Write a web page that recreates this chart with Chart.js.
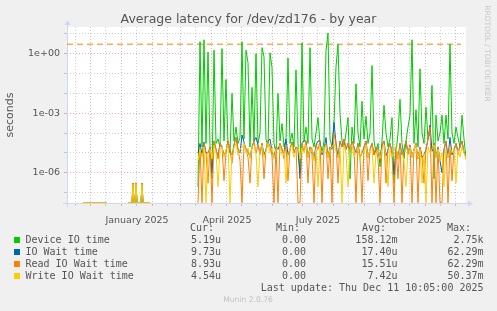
<!DOCTYPE html>
<html>
<head>
<meta charset="utf-8">
<title>Average latency for /dev/zd176 - by year</title>
<script src="https://cdn.jsdelivr.net/npm/chart.js@4/dist/chart.umd.min.js"></script>
<style>
  body { margin: 0; background: #f0f0f0; }
  canvas { display: block; }
</style>
</head>
<body>
<canvas id="latency" width="497" height="311"></canvas>
<script>
// x positions = days since 8 Nov 2024 (left edge of the plot), one pixel per day
// first 22 entries are the few early samples, null = no data (breaks the line)
const earlyDays = [16, 20, 24, 28, 32, 36, 40, 50, 61, 64, 65, 66, 67, 68, 69, 70, 74, 75, 76, 80, 83, 100];
const days = earlyDays.slice();
for (let d = 131; d <= 399; d += 2) days.push(d);

// values in seconds, 0 = drawn on the floor of the log axis like rrdtool does
const deviceIO = [
  0, 0, 0, 0, 0, 0, 0, null, 0, 0, 0, 2e-7, 0, 0, 2.5e-7, 0, 0, 2e-7, 0, 0, 0, null,
  2e-7, 4, 2e-5, 5, 3e-5, 1.2, 2e-5, 5e-7, 1.5, 3e-5, 5e-5, 2e-5, 1.8, 4e-5, 0.05,
  3e-5, 1e-5, 0.01, 4e-5, 2e-4, 3e-5, 6e-5, 4, 5e-5, 1.5, 0.35, 2e-5, 0.02, 4e-5, 1,
  3e-5, 1e-4, 2, 0.7, 5e-5, 2e-5, 1.1, 0.2, 3e-5, 1e-5, 0.01, 4e-5, 3e-4, 2e-5, 5e-5,
  0.6, 3e-5, 1e-4, 2e-5, 0.15, 3e-5, 1e-6, 3.5, 4e-5, 2e-4, 3e-5, 2, 5e-5, 2e-5, 1e-4,
  6e-4, 3e-5, 1e-5, 4e-5, 1.4, 11, 5e-5, 2e-5, 3e-4, 0.22, 3, 1e-3, 4e-5, 2e-5, 1e-4,
  6e-4, 5e-7, 2e-4, 3e-5, 0.03, 1e-4, 2e-5, 0.004, 5e-5, 7e-4, 3e-5, 1e-4, 0.25, 4e-5, 1e-5,
  3e-5, 2e-6, 4e-5, 0.0025, 1e-4, 2e-5, 5e-5, 6e-4, 3e-7, 1e-5, 1e-4, 0.005, 3e-5, 5e-6, 4e-5,
  2e-4, 8e-4, 5, 3e-5, 0.0015, 2e-5, 0.17, 1e-4, 3e-5, 0.002, 5e-5, 1e-4, 0.025, 5e-7, 8e-4,
  4e-5, 1e-4, 8e-4, 3e-5, 8e-4, 5e-5, 3, 1e-4, 3e-5, 2e-4, 6e-5, 2e-5, 8e-4, 5e-5, 5.19e-6
];
const ioWait = [
  0, 0, 0, 0, 0, 0, 0, null, 0, 0, 0, 3e-7, 0, 0, 3e-7, 0, 0, 3e-7, 0, 0, 0, null,
  1e-5, 3e-5, 8e-6, 3.5e-5, 1e-5, 1e-5, 2e-5, 1e-6, 4e-5, 1.5e-5, 6e-6, 3e-5, 2e-5, 8e-6, 1.2e-5,
  4e-5, 1.2e-5, 8e-6, 2.5e-5, 6e-5, 1.5e-5, 1e-5, 8e-5, 3.5e-5, 1.5e-5, 1.2e-5, 6e-6, 2e-5, 4e-5, 6e-5,
  2.5e-5, 1e-5, 3e-5, 8e-6, 1.5e-5, 4e-5, 5e-5, 1.2e-5, 6e-6, 2e-5, 1.5e-5, 3e-5, 1.5e-5, 1e-5, 5e-5,
  8e-6, 1.5e-5, 3.5e-5, 1e-5, 2e-5, 1.5e-5, 5e-7, 3e-5, 4e-5, 4e-5, 6e-6, 2e-5, 1.5e-5, 5e-6, 2.5e-5,
  4e-5, 4e-5, 8e-6, 1.5e-5, 6e-5, 6e-6, 2e-5, 1.5e-5, 3.5e-4, 3e-5, 6e-6, 4e-5, 2e-5, 5e-5, 1.5e-5,
  3e-5, 1.2e-5, 4e-5, 2e-5, 1e-5, 3e-5, 6e-6, 1e-5, 2e-5, 4e-5, 6e-6, 1.5e-5, 3e-5, 8e-6, 2e-5,
  1.2e-5, 5e-6, 2.5e-5, 4e-5, 7e-6, 1.5e-5, 3e-5, 1e-5, 8e-7, 2e-5, 5e-6, 3e-5, 8e-6, 1.5e-5, 4e-5,
  1e-5, 2.5e-5, 6e-6, 1.5e-5, 3e-5, 5e-6, 2e-5, 6e-6, 8e-6, 1.5e-5, 5e-5, 2.5e-4, 1.2e-5, 3e-5, 6e-6,
  2e-5, 4e-6, 1e-6, 1.5e-5, 4e-5, 6e-6, 6e-5, 8e-6, 1.5e-5, 3e-5, 1.2e-5, 2e-5, 4e-5, 1e-5, 9.73e-6
];
const readWait = [
  0, 0, 0, 0, 0, 0, 0, null, 0, 0, 0, 3e-7, 0, 0, 3.2e-7, 0, 0, 3e-7, 0, 0, 0, null,
  0, 2e-5, 0, 3e-5, 1e-5, 3e-7, 2e-5, 0, 4e-5, 1.5e-5, 5e-6, 3e-5, 2e-5, 4e-7, 1e-5,
  4e-5, 1.2e-5, 3e-6, 2.5e-5, 6e-5, 1.5e-5, 4e-6, 0, 3e-5, 1.5e-5, 6e-6, 3e-7, 2e-5, 4e-5, 1e-5,
  2.5e-5, 8e-6, 3e-5, 5e-7, 1.5e-5, 4e-5, 2e-5, 7e-6, 0, 2e-5, 0, 3e-5, 1.5e-5, 5e-6, 2.5e-5,
  4e-7, 1.5e-5, 3.5e-5, 1e-5, 2e-5, 0, 0, 3e-5, 1.2e-5, 4e-5, 3e-7, 2e-5, 8e-6, 0, 2.5e-5,
  1.5e-5, 4e-5, 0, 1.5e-5, 3e-5, 5e-7, 2e-5, 0, 1e-4, 3e-5, 3e-7, 4e-5, 2e-5, 5e-5, 1.5e-5,
  3e-5, 1e-5, 4e-5, 2e-5, 0, 3e-5, 6e-6, 0, 2e-5, 4e-5, 4e-7, 1.5e-5, 3e-5, 8e-6, 2e-5,
  5e-6, 0, 2.5e-5, 4e-5, 3e-7, 1.5e-5, 3e-5, 1e-5, 0, 2e-5, 5e-7, 3e-5, 0, 1.5e-5, 4e-5,
  8e-6, 2.5e-5, 0, 1.5e-5, 3e-5, 0, 2e-5, 6e-6, 3e-7, 1.5e-5, 5e-5, 2e-4, 0, 3e-5, 0,
  2e-5, 0, 0, 1.5e-5, 4e-5, 0, 2.5e-5, 4e-7, 1.5e-5, 3e-5, 8e-6, 2e-5, 4e-5, 1e-5, 8.93e-6
];
const writeWait = [
  0, 0, 0, 0, 0, 0, 0, null, 0, 0, 0, 2.6e-7, 0, 0, 2.8e-7, 0, 0, 2.6e-7, 0, 0, 0, null,
  4e-6, 1.5e-5, 6e-6, 2e-5, 0, 1.2e-5, 1.5e-5, 5e-6, 2.5e-5, 1e-5, 2e-7, 1.5e-5, 2e-5, 6e-6, 1.5e-5,
  2.5e-5, 0, 1.2e-5, 1.8e-5, 3e-5, 8e-6, 1.5e-5, 2e-5, 3e-5, 1e-5, 1.8e-5, 5e-6, 2e-5, 2.5e-5, 8e-6,
  2e-7, 1.5e-5, 2.5e-5, 6e-6, 1.2e-5, 3e-5, 1e-5, 1.8e-5, 5e-6, 1.5e-5, 2e-5, 2.5e-5, 8e-6, 1.5e-5, 3e-7,
  1e-5, 1.5e-5, 2.5e-5, 6e-6, 1.5e-5, 2e-5, 5e-6, 1.8e-5, 1e-5, 2.5e-5, 6e-6, 1.5e-5, 2e-5, 4e-6, 1.5e-5,
  2e-7, 2e-5, 1e-5, 1.5e-5, 2.5e-5, 6e-6, 1.5e-5, 2e-5, 3e-5, 1.2e-5, 6e-6, 2e-5, 0, 2.5e-5, 1e-5,
  2e-7, 1.5e-5, 2.5e-5, 6e-6, 1.2e-5, 2e-5, 4e-6, 1.5e-5, 1e-5, 2.5e-5, 6e-6, 1.5e-5, 2e-5, 3e-7, 1e-5,
  1.5e-5, 5e-6, 1.5e-5, 2.5e-5, 7e-6, 2e-7, 1.5e-5, 6e-6, 1.5e-5, 2e-5, 5e-6, 1.5e-5, 1e-5, 4e-6, 2e-7,
  1.5e-5, 2e-5, 6e-6, 1.5e-5, 2.5e-5, 5e-6, 1.5e-5, 3e-7, 1e-5, 0, 2e-5, 1e-5, 1.5e-5, 2.5e-5, 6e-6,
  1.5e-5, 4e-6, 1e-5, 2e-7, 1.5e-5, 6e-6, 2e-5, 1e-5, 1.5e-5, 3e-7, 1.5e-5, 6e-6, 2e-5, 1e-5, 4.54e-6
];
const limitLine = 3; // the dashed orange rule

// legend table
const seriesNames = ['Device IO time', 'IO Wait time', 'Read IO Wait time', 'Write IO Wait time'];
const curVals = ['5.19u', '9.73u', '8.93u', '4.54u'];
const minVals = ['0.00', '0.00', '0.00', '0.00'];
const avgVals = ['158.12m', '17.40u', '15.51u', '7.42u'];
const maxVals = ['2.75k', '62.29m', '62.29m', '50.37m'];
const lastUpdate = 'Last update: Thu Dec 11 10:05:00 2025';

// axes
const xLabelDays = [70, 160, 251, 342];
const xLabels = ['January 2025', 'April 2025', 'July 2025', 'October 2025'];
const monthDays = [23, 54, 85, 113, 144, 174, 205, 235, 266, 297, 327, 358, 388];
const midMonthDays = [8, 38, 69, 100, 128, 159, 189, 220, 250, 281, 312, 342, 373];
const yGridExps = [-7, -6, -5, -4, -3, -2, -1, 0, 1];
const yLabelExps = [0, -3, -6];
const yLabels = ['1e+00', '1e-03', '1e-06'];

// styles
const seriesColors = ['#00cc00', '#0066b3', '#ff8000', '#ffcc00'];
const FONT = '#555555';
const AXIS = '#cfd6f8';
const GRID = 'rgba(143,143,143,0.42)';
const MGRID = 'rgba(222,79,79,0.45)';
const Y_MIN = 3.1e-8;
const Y_MAX = 22;
const SANS = 'DejaVu Sans';
const MONO = 'DejaVu Sans Mono';

function toY(v) {
    if (v === null) return null;
    return v === 0 ? Y_MIN : v; // rrdtool puts zero on the floor of a log graph
}

function series(k, values, order) {
    return {
        label: seriesNames[k],
        data: days.map(function(d, i) { return { x: d, y: toY(values[i]) }; }),
        borderColor: seriesColors[k],
        borderWidth: 1,
        pointRadius: 0,
        tension: 0,
        fill: false,
        order: order,
        xAxisID: 'x'
    };
}

let decor = {
    id: 'decor',
    beforeDraw(chart) {
        const ctx = chart.ctx, a = chart.chartArea;
        ctx.save();
        ctx.fillStyle = '#f0f0f0';
        ctx.fillRect(0, 0, chart.width, chart.height);
        ctx.fillStyle = '#ffffff';
        ctx.fillRect(a.left, a.top, a.right - a.left, a.bottom - a.top);
        ctx.restore();
    },
    beforeDatasetsDraw(chart) {
        // axis lines with the little arrows
        const ctx = chart.ctx, a = chart.chartArea;
        ctx.save();
        ctx.strokeStyle = AXIS;
        ctx.fillStyle = AXIS;
        ctx.lineWidth = 1;
        ctx.beginPath();
        ctx.moveTo(a.left - 4, a.bottom + 0.5);
        ctx.lineTo(a.right + 3, a.bottom + 0.5);
        ctx.moveTo(a.left + 0.5, a.bottom + 4);
        ctx.lineTo(a.left + 0.5, a.top - 3);
        ctx.stroke();
        ctx.beginPath();
        ctx.moveTo(a.right + 7, a.bottom + 0.5);
        ctx.lineTo(a.right + 2, a.bottom - 2.5);
        ctx.lineTo(a.right + 2, a.bottom + 3.5);
        ctx.fill();
        ctx.beginPath();
        ctx.moveTo(a.left + 0.5, a.top - 7);
        ctx.lineTo(a.left - 2.5, a.top - 2);
        ctx.lineTo(a.left + 3.5, a.top - 2);
        ctx.fill();
        ctx.restore();
    },
    afterDraw(chart) {
        const ctx = chart.ctx;
        ctx.save();
        // title
        ctx.fillStyle = FONT;
        ctx.font = '12.5px "' + SANS + '"';
        ctx.textAlign = 'center';
        ctx.textBaseline = 'middle';
        ctx.fillText('Average latency for /dev/zd176 - by year', 248.5, 19.5);

        // rrdtool watermark on the right
        ctx.save();
        ctx.translate(487, 53.5);
        ctx.rotate(Math.PI / 2);
        ctx.fillStyle = '#c8c8c8';
        ctx.font = '7.5px "' + SANS + '"';
        ctx.fillText('RRDTOOL / TOBI OETIKER', 0, 0);
        ctx.restore();

        // legend table
        ctx.font = '10px "' + MONO + '"';
        ctx.fillStyle = FONT;
        ctx.textAlign = 'left';
        ctx.fillText('Cur:', 190, 228);
        ctx.fillText('Min:', 276, 228);
        ctx.fillText('Avg:', 362, 228);
        ctx.fillText('Max:', 447, 228);
        for (let k = 0; k < seriesNames.length; k++) {
            let y = 240 + 12 * k;
            ctx.fillStyle = seriesColors[k];
            ctx.fillRect(14, y - 3, 6, 6);
            ctx.fillStyle = FONT;
            ctx.textAlign = 'left';
            ctx.fillText(seriesNames[k], 25.5, y);
            ctx.textAlign = 'right';
            ctx.fillText(curVals[k], 221, y);
            ctx.fillText(minVals[k], 306, y);
            ctx.fillText(avgVals[k], 397.5, y);
            ctx.fillText(maxVals[k], 483.5, y);
        }
        ctx.textAlign = 'right';
        ctx.fillText(lastUpdate, 483.5, 288);

        ctx.textAlign = 'center';
        ctx.fillStyle = '#c0c0c0';
        ctx.font = '7.6px "' + SANS + '"';
        ctx.fillText('Munin 2.0.76', 248, 300.5);
        ctx.restore();
    }
};

new Chart(document.getElementById('latency'), {
    type: 'line',
    data: {
        datasets: [
            series(0, deviceIO, 4),
            series(1, ioWait, 3),
            series(2, readWait, 2),
            series(3, writeWait, 1),
            {
                label: 'limit',
                data: [{ x: 0, y: limitLine }, { x: 394, y: limitLine }],
                borderColor: '#ff8000',
                borderWidth: 1,
                borderDash: [6, 4],
                pointRadius: 0,
                order: 5,
                xAxisID: 'x'
            }
        ]
    },
    options: {
        responsive: false,
        animation: false,
        devicePixelRatio: 1,
        events: [],
        layout: { padding: { top: 27, left: 0, right: 31, bottom: 0 } },
        plugins: { legend: { display: false }, tooltip: { enabled: false }, title: { display: false } },
        scales: {
            x: {
                type: 'linear', position: 'bottom', min: 0, max: 399, weight: 0,
                afterBuildTicks: function(s) {
                    s.ticks = monthDays.concat(midMonthDays).sort(function(p, q) { return p - q; })
                        .map(function(v) { return { value: v }; });
                },
                afterFit: function(s) { s.height = 0; },
                ticks: { display: false, autoSkip: false },
                grid: {
                    tickLength: 3,
                    color: function(c) { return monthDays.includes(c.tick.value) ? MGRID : GRID; }
                },
                border: { display: false, dash: [1, 2] }
            },
            xl: {
                type: 'linear', position: 'bottom', min: 0, max: 399, weight: 1,
                afterBuildTicks: function(s) { s.ticks = xLabelDays.map(function(v) { return { value: v }; }); },
                afterFit: function(s) { s.height = 108; },
                ticks: {
                    autoSkip: false, maxRotation: 0, padding: 4, color: FONT,
                    font: { family: SANS, size: 9.5 },
                    callback: function(v, i) { return xLabels[i]; }
                },
                grid: { display: false },
                border: { display: false }
            },
            y: {
                type: 'logarithmic', min: Y_MIN, max: Y_MAX,
                afterBuildTicks: function(s) { s.ticks = yGridExps.map(function(e) { return { value: Math.pow(10, e) }; }); },
                afterFit: function(s) { s.width = 67; },
                ticks: {
                    autoSkip: false, padding: 4, color: FONT,
                    font: { family: SANS, size: 9.5 },
                    callback: function(v) {
                        let k = yLabelExps.indexOf(Math.round(Math.log10(v)));
                        return k < 0 ? '' : yLabels[k];
                    }
                },
                grid: {
                    tickLength: 3,
                    color: function(c) {
                        return yLabelExps.includes(Math.round(Math.log10(c.tick.value))) ? MGRID : GRID;
                    }
                },
                border: { display: false, dash: [1, 2] },
                title: {
                    display: true, text: 'seconds', color: FONT,
                    font: { family: SANS, size: 11 }, padding: { top: 4, bottom: 0 }
                }
            }
        }
    },
    plugins: [decor]
});
</script>
</body>
</html>
